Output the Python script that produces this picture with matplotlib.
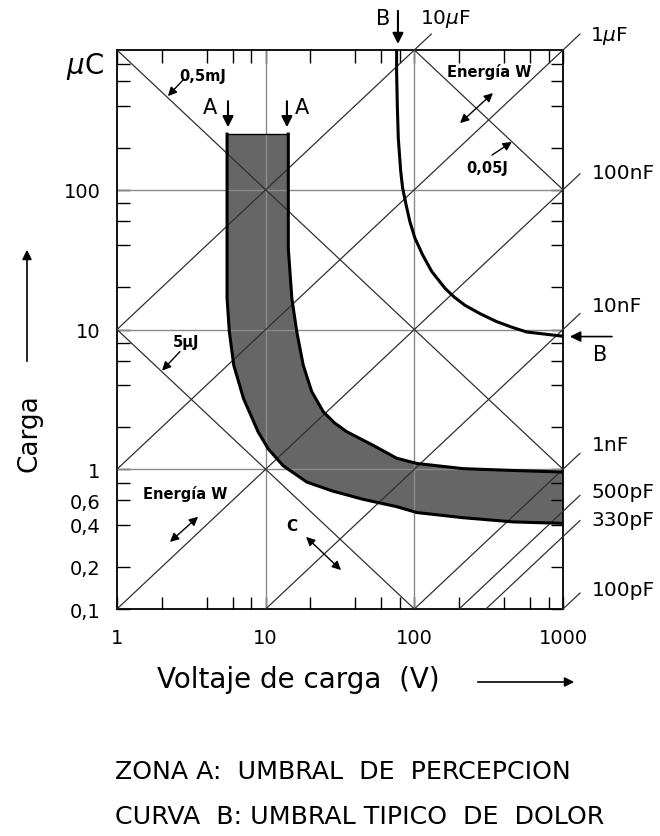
import numpy as np
import matplotlib.pyplot as plt
from matplotlib.ticker import FixedLocator, FixedFormatter, NullFormatter

# ejes
volt_ticks = [1, 10, 100, 1000]
volt_labels = ['1', '10', '100', '1000']
carga_ticks = [0.1, 0.2, 0.4, 0.6, 1, 10, 100]
carga_labels = ['0,1', '0,2', '0,4', '0,6', '1', '10', '100']
grid_v = [10, 100]
grid_q = [1, 10, 100]
minor_subs = [2, 4, 6, 8]

# rectas de capacidad (Q = C V) y de energia (Q = 2W / V)
cap_uF = [10, 1, 0.1, 0.01, 0.001, 0.0005, 0.00033, 0.0001]
cap_labels = ['10$\\mu$F', '1$\\mu$F', '100nF', '10nF', '1nF', '500pF', '330pF', '100pF']
energy_uJ = [5, 500, 50000]

# zona A (umbral de percepcion)
zona_low_v = [5.5, 5.5, 5.5, 5.7, 6.1, 7.1, 8.9, 10.4, 13.1, 18.9, 28, 45, 76, 104, 213, 462, 1000]
zona_low_q = [250, 38, 16.7, 9.6, 5.55, 3.2, 1.85, 1.4, 1.06, 0.81, 0.70, 0.61, 0.54, 0.49, 0.45, 0.42, 0.41]
zona_high_v = [14.2, 14.2, 15.0, 16.2, 17.9, 20.4, 24.4, 29, 35, 53, 76, 104, 213, 462, 1000]
zona_high_q = [250, 38, 16.7, 9.6, 5.55, 3.6, 2.58, 2.15, 1.86, 1.48, 1.2, 1.1, 1.01, 0.98, 0.955]

# curva B (umbral tipico de dolor)
curva_b_v = [76, 76, 76.8, 78, 81, 83.4, 88, 93.4, 101, 114, 131, 161, 185, 219, 276, 357, 451, 569, 1000]
curva_b_q = [1000, 700, 405, 234, 135, 103, 78, 59, 45, 34, 26, 19.7, 17.1, 14.9, 13.0, 11.4, 10.4, 9.6, 8.95]

fig = plt.figure(figsize=(6.6, 8.37), dpi=100)
ax = fig.add_axes([117/660, 1 - 610/837, 446/660, 559/837])
ax.set_xscale('log')
ax.set_yscale('log')
ax.set_xlim(1, 1000)
ax.set_ylim(0.1, 1000)

# zona A
poly_v = np.concatenate([zona_low_v, zona_high_v[::-1]])
poly_q = np.concatenate([zona_low_q, zona_high_q[::-1]])
ax.fill(poly_v, poly_q, facecolor='#666666', edgecolor='none', zorder=1)
ax.plot(zona_low_v, zona_low_q, color='black', lw=2.2, zorder=4)
ax.plot(zona_high_v, zona_high_q, color='black', lw=2.2, zorder=4)
ax.plot([zona_low_v[0], zona_high_v[0]], [zona_low_q[0], zona_high_q[0]], color='black', lw=1, zorder=4)

# rejilla
for v in grid_v:
    ax.axvline(v, color='#8a8a8a', lw=1.0, zorder=2)
for q in grid_q:
    ax.axhline(q, color='#8a8a8a', lw=1.0, zorder=2)

# rectas de capacidad
vv = np.array([1, 1000])
for c in cap_uF:
    ax.plot(vv, c * vv, color='#303030', lw=0.9, zorder=3)
    ve = 1000 if c * 1000 <= 1000 else 1000 / c
    ax.plot([ve, ve * 1.3], [c * ve, c * ve * 1.3], color='#303030', lw=0.9, clip_on=False, zorder=3)

cap_label_pos = [(109, 1694), (1517, 1282), (1564, 133), (1564, 14.9),
                 (1564, 1.5), (1564, 0.69), (1564, 0.44), (1564, 0.139)]
for lab, (x, y) in zip(cap_labels, cap_label_pos):
    ax.text(x, y, lab, fontsize=14.5, ha='left', va='center')

# rectas de energia
for w in energy_uJ:
    ax.plot(vv, 2 * w / vv, color='#303030', lw=0.9, zorder=3)

# curva B
ax.plot(curva_b_v, curva_b_q, color='black', lw=2.2, zorder=4)


def flecha(p0, p1, both=False, lw=1.0, ms=12):
    style = '<|-|>' if both else '-|>'
    ax.annotate('', xy=p1, xytext=p0, annotation_clip=False,
                arrowprops=dict(arrowstyle=style, color='black', lw=lw,
                                mutation_scale=ms, shrinkA=0, shrinkB=0))


# etiquetas A y B
flecha((5.58, 430), (5.58, 280), lw=1.5, ms=16)
flecha((13.9, 430), (13.9, 280), lw=1.5, ms=16)
ax.text(4.22, 390, 'A', fontsize=15, ha='center', va='center')
ax.text(17.5, 390, 'A', fontsize=15, ha='center', va='center')
flecha((77.6, 1905), (77.6, 1104), lw=1.5, ms=16)
ax.text(61.5, 1694, 'B', fontsize=15, ha='center', va='center')
flecha((2133, 8.9), (1112, 8.9), lw=1.2, ms=16)
ax.text(1771, 6.73, 'B', fontsize=15, ha='center', va='center')

# etiquetas de energia
ax.text(3.79, 662, '0,5mJ', fontsize=10.5, fontweight='bold', ha='center', va='center')
flecha((2.78, 610), (2.2, 468), ms=13)
ax.text(318, 707, 'Energía W', fontsize=10.5, fontweight='bold', ha='center', va='center')
flecha((203, 300), (338, 492), both=True, ms=13)
ax.text(308, 145, '0,05J', fontsize=10.5, fontweight='bold', ha='center', va='center')
flecha((333, 177), (453, 220), ms=13)
ax.text(2.91, 8.2, '5µJ', fontsize=10.5, fontweight='bold', ha='center', va='center')
flecha((2.65, 6.95), (2.01, 5.08), ms=13)
ax.text(2.87, 0.678, 'Energía W', fontsize=10.5, fontweight='bold', ha='center', va='center')
flecha((2.27, 0.302), (3.51, 0.457), both=True, ms=13)
ax.text(15.0, 0.393, 'C', fontsize=11, fontweight='bold', ha='center', va='center')
flecha((18.7, 0.328), (32.1, 0.19), both=True, ms=13)

# ticks
minor_x = [s * 10.0 ** d for d in range(0, 3) for s in minor_subs]
minor_y = [s * 10.0 ** d for d in range(-1, 3) for s in minor_subs]
ax.xaxis.set_major_locator(FixedLocator(volt_ticks))
ax.xaxis.set_major_formatter(FixedFormatter(volt_labels))
ax.xaxis.set_minor_locator(FixedLocator(minor_x))
ax.xaxis.set_minor_formatter(NullFormatter())
ax.yaxis.set_major_locator(FixedLocator(carga_ticks))
ax.yaxis.set_major_formatter(FixedFormatter(carga_labels))
ax.yaxis.set_minor_locator(FixedLocator(minor_y))
ax.yaxis.set_minor_formatter(NullFormatter())
ax.tick_params(which='both', direction='in', top=True, right=True, length=9, width=1)
ax.tick_params(axis='x', which='major', labelsize=14, pad=14)
ax.tick_params(axis='y', which='major', labelsize=14, pad=12)
for s in ax.spines.values():
    s.set_linewidth(1.3)

ax.text(-0.03, 1.0, '$\\mu$C', transform=ax.transAxes, fontsize=20, ha='right', va='top')

# titulos de ejes
fig.text(157/660, 1 - 680/837, 'Voltaje de carga  (V)', fontsize=20, ha='left', va='center')
ax.annotate('', xy=(577/660, 1 - 683/837), xytext=(475/660, 1 - 683/837),
            xycoords='figure fraction', textcoords='figure fraction',
            arrowprops=dict(arrowstyle='-|>', color='black', lw=1.2, mutation_scale=14))
fig.text(29/660, 1 - 433/837, 'Carga', fontsize=19, rotation=90, ha='center', va='center')
ax.annotate('', xy=(27/660, 1 - 248/837), xytext=(27/660, 1 - 365/837),
            xycoords='figure fraction', textcoords='figure fraction',
            arrowprops=dict(arrowstyle='-|>', color='black', lw=1.2, mutation_scale=14))

fig.text(115/660, 1 - 772/837, 'ZONA A:  UMBRAL  DE  PERCEPCION', fontsize=18.2, ha='left', va='center')
fig.text(115/660, 1 - 817/837, 'CURVA  B: UMBRAL TIPICO  DE  DOLOR', fontsize=18.2, ha='left', va='center')

fig.savefig('out.png', dpi=100)
